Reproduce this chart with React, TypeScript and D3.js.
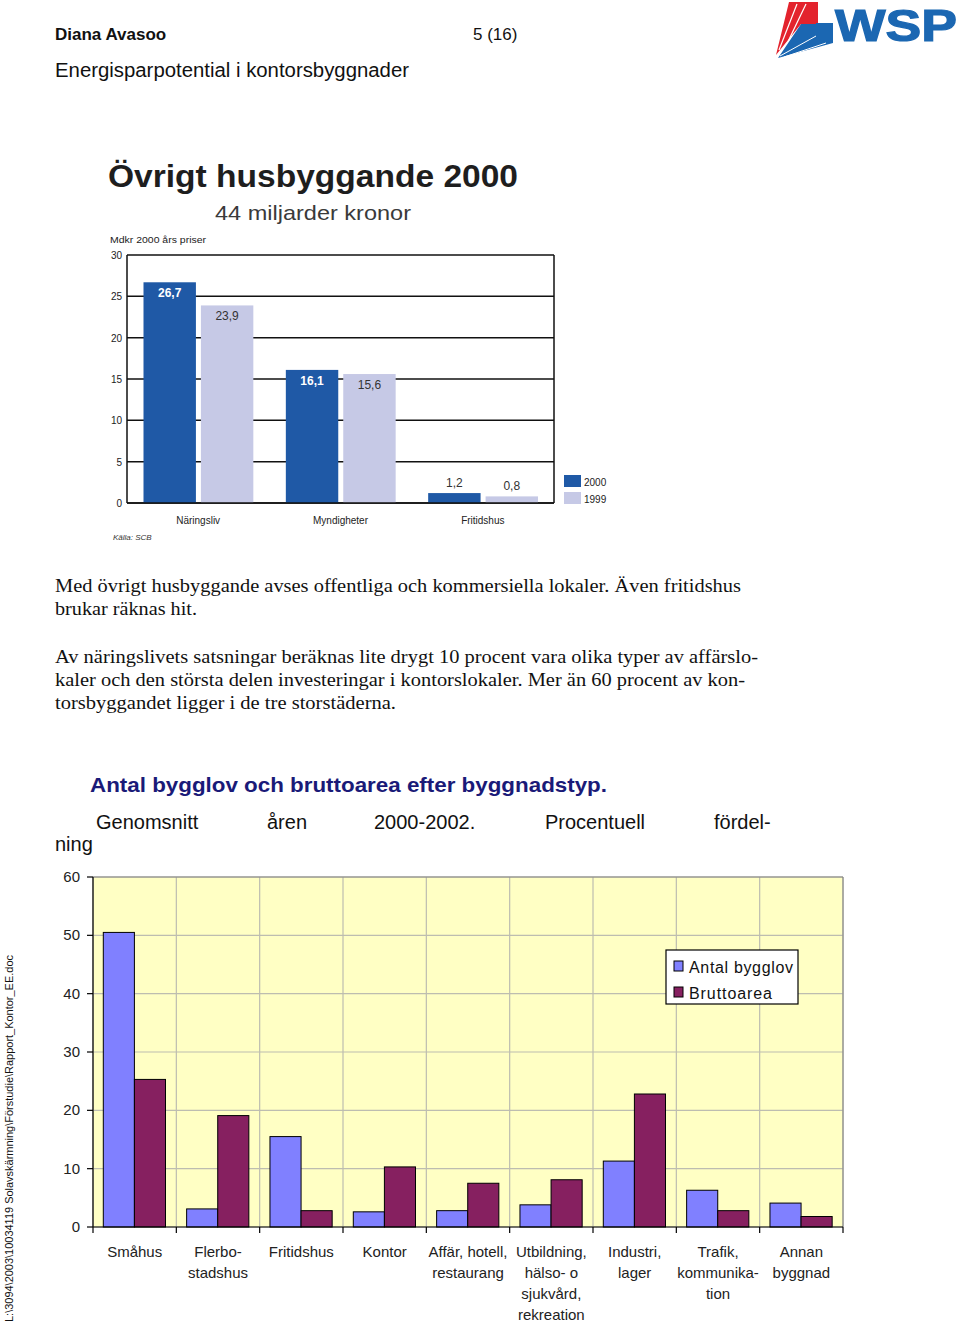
import React from "react";
import * as d3 from "d3";

// ---------- Top chart data ----------
const topCategories = ["Näringsliv", "Myndigheter", "Fritidshus"];
const topSeries = ["2000", "1999"];
const values2000 = [26.7, 16.1, 1.2];
const values1999 = [23.9, 15.6, 0.8];
const topTicks = [0, 5, 10, 15, 20, 25, 30];

// ---------- Bottom chart data ----------
const bottomCategories = [
  ["Småhus"],
  ["Flerbo-", "stadshus"],
  ["Fritidshus"],
  ["Kontor"],
  ["Affär, hotell,", "restaurang"],
  ["Utbildning,", "hälso- o", "sjukvård,", "rekreation"],
  ["Industri,", "lager"],
  ["Trafik,", "kommunika-", "tion"],
  ["Annan", "byggnad"],
];
const bottomSeries = ["Antal bygglov", "Bruttoarea"];
const antalBygglov = [50.5, 3.1, 15.5, 2.6, 2.8, 3.8, 11.3, 6.3, 4.1];
const bruttoarea = [25.3, 19.1, 2.8, 10.3, 7.5, 8.1, 22.8, 2.8, 1.8];
const bottomTicks = [0, 10, 20, 30, 40, 50, 60];

const SANS = "'Liberation Sans', Arial, sans-serif";
const SERIF = "'Liberation Serif', 'Times New Roman', serif";

function TopChart() {
  const x0 = d3.scaleBand<string>().domain(topCategories).range([127, 554]).padding(0);
  const x1 = d3
    .scaleBand<string>()
    .domain(topSeries)
    .range([16.5, x0.bandwidth() - 16])
    .paddingInner(0.087);
  const y = d3.scaleLinear().domain([0, 30]).range([503, 255]);
  const colors: Record<string, string> = { "2000": "#1f59a6", "1999": "#c6c9e6" };
  const seriesVals: Record<string, number[]> = { "2000": values2000, "1999": values1999 };

  return (
    <g>
      <text x={108} y={187} fontFamily={SANS} fontWeight={900} fontSize={31} fill="#1e1e1e" textLength={410} lengthAdjust="spacingAndGlyphs">
        Övrigt husbyggande 2000
      </text>
      <text x={215} y={220} fontFamily={SANS} fontSize={21} fill="#3a3a3a" textLength={196} lengthAdjust="spacingAndGlyphs">
        44 miljarder kronor
      </text>
      <text x={110} y={243} fontFamily={SANS} fontSize={9} fill="#222" textLength={96} lengthAdjust="spacingAndGlyphs">
        Mdkr 2000 års priser
      </text>
      {topTicks.map((t) => (
        <line key={t} x1={127} x2={554} y1={y(t)} y2={y(t)} stroke="#111" strokeWidth={1.5} />
      ))}
      <line x1={127} x2={127} y1={255} y2={503} stroke="#111" strokeWidth={1.5} />
      <line x1={554} x2={554} y1={255} y2={503} stroke="#111" strokeWidth={1.5} />
      {topTicks.map((t) => (
        <text key={"l" + t} x={122} y={y(t) + 4} textAnchor="end" fontFamily={SANS} fontSize={10} fill="#222">
          {t}
        </text>
      ))}
      {topCategories.map((c, i) => (
        <g key={c}>
          {topSeries.map((s) => {
            const v = seriesVals[s][i];
            const bx = (x0(c) as number) + (x1(s) as number);
            const w = x1.bandwidth();
            const big = v > 5;
            return (
              <g key={s}>
                <rect x={bx} y={y(v)} width={w} height={503 - y(v)} fill={colors[s]} />
                <text
                  x={bx + w / 2}
                  y={big ? y(v) + 15 : y(v) - 6}
                  textAnchor="middle"
                  fontFamily={SANS}
                  fontSize={12}
                  fontWeight={s === "2000" && big ? 700 : 400}
                  fill={s === "2000" && big ? "#ffffff" : "#333"}
                >
                  {String(v).replace(".", ",")}
                </text>
              </g>
            );
          })}
          <text x={(x0(c) as number) + x0.bandwidth() / 2} y={524} textAnchor="middle" fontFamily={SANS} fontSize={10} fill="#222">
            {c}
          </text>
        </g>
      ))}
      <line x1={127} x2={554} y1={503} y2={503} stroke="#111" strokeWidth={1.5} />
      {topSeries.map((s, i) => (
        <g key={s}>
          <rect x={564} y={475 + i * 17} width={17} height={12} fill={colors[s]} />
          <text x={584} y={486 + i * 17} fontFamily={SANS} fontSize={10} fill="#222">
            {s}
          </text>
        </g>
      ))}
      <text x={113} y={540} fontFamily={SANS} fontStyle="italic" fontSize={8} fill="#333">
        Källa: SCB
      </text>
    </g>
  );
}

function BottomChart() {
  const left = 93, right = 843, top = 877, bottom = 1227;
  const labels = bottomCategories.map((c) => c.join(" "));
  const x0 = d3.scaleBand<string>().domain(labels).range([left, right]).padding(0);
  const x1 = d3.scaleBand<string>().domain(bottomSeries).range([10.3, 72.5]).padding(0);
  const y = d3.scaleLinear().domain([0, 60]).range([bottom, top]);
  const colors: Record<string, string> = { "Antal bygglov": "#8080ff", Bruttoarea: "#862060" };
  const vals: Record<string, number[]> = { "Antal bygglov": antalBygglov, Bruttoarea: bruttoarea };
  const boundaries = labels.map((l) => x0(l) as number).concat([right]);

  return (
    <g>
      <rect x={left} y={top} width={right - left} height={bottom - top} fill="#ffffc4" />
      {bottomTicks.map((t) => (
        <line key={t} x1={left} x2={right} y1={y(t)} y2={y(t)} stroke="#bdbdb0" strokeWidth={1.2} />
      ))}
      {boundaries.map((b, i) => (
        <line key={i} x1={b} x2={b} y1={top} y2={bottom} stroke="#bdbdb0" strokeWidth={1.2} />
      ))}
      <line x1={left} x2={right} y1={top} y2={top} stroke="#808080" strokeWidth={1} />
      <line x1={right} x2={right} y1={top} y2={bottom} stroke="#808080" strokeWidth={1} />
      {labels.map((l, i) =>
        bottomSeries.map((s) => {
          const v = vals[s][i];
          const bx = (x0(l) as number) + (x1(s) as number);
          return (
            <rect key={l + s} x={bx} y={y(v)} width={x1.bandwidth()} height={bottom - y(v)} fill={colors[s]} stroke="#000" strokeWidth={1} />
          );
        })
      )}
      <line x1={left} x2={left} y1={top} y2={bottom} stroke="#000" strokeWidth={1.2} />
      <line x1={left} x2={right} y1={bottom} y2={bottom} stroke="#000" strokeWidth={1.2} />
      {bottomTicks.map((t) => (
        <g key={"t" + t}>
          <line x1={left - 6} x2={left} y1={y(t)} y2={y(t)} stroke="#000" strokeWidth={1.2} />
          <text x={80} y={y(t) + 5} textAnchor="end" fontFamily={SANS} fontSize={15} fill="#222">
            {t}
          </text>
        </g>
      ))}
      {boundaries.map((b, i) => (
        <line key={"xb" + i} x1={b} x2={b} y1={bottom} y2={bottom + 6} stroke="#000" strokeWidth={1.2} />
      ))}
      {bottomCategories.map((lines, i) => {
        const cx = (x0(labels[i]) as number) + x0.bandwidth() / 2;
        return (
          <text key={"c" + i} textAnchor="middle" fontFamily={SANS} fontSize={15} fill="#222">
            {lines.map((ln, j) => (
              <tspan key={j} x={cx} y={1257 + j * 21}>
                {ln}
              </tspan>
            ))}
          </text>
        );
      })}
      <rect x={666} y={950} width={132} height={54} fill="#fff" stroke="#000" strokeWidth={1.2} />
      {bottomSeries.map((s, i) => (
        <g key={s}>
          <rect x={674} y={961 + i * 26} width={9} height={10} fill={colors[s]} stroke="#000" strokeWidth={1} />
          <text x={689} y={973 + i * 26} fontFamily={SANS} fontSize={16} fill="#111" textLength={i === 0 ? 104 : 83} lengthAdjust="spacing">
            {s}
          </text>
        </g>
      ))}
    </g>
  );
}

function Logo() {
  return (
    <g>
      <polygon points="789,2 818,2 818,24 801,24 776,55" fill="#e3232d" />
      <line x1={797} y1={4} x2={779} y2={50} stroke="#ffffff" strokeWidth={1.2} />
      <line x1={806} y1={4} x2={783} y2={52} stroke="#ffffff" strokeWidth={1.2} />
      <rect x={816} y={23} width={17} height={20} fill="#1b67b2" />
      <polygon points="801,24 816,24 816,43 833,43 778,58" fill="#1b67b2" />
      <line x1={780} y1={56} x2={816} y2={36} stroke="#ffffff" strokeWidth={1} />
      <line x1={784} y1={57} x2={826} y2={43} stroke="#ffffff" strokeWidth={1} />
      <text x={835} y={41} fontFamily={SANS} fontWeight={700} fontSize={45} fill="#1b67b2" stroke="#1b67b2" strokeWidth={1.2} textLength={122} lengthAdjust="spacingAndGlyphs">
        WSP
      </text>
    </g>
  );
}

export default function App() {
  return (
    <svg
      width={960}
      height={1327}
      viewBox="0 0 960 1327"
      style={{ position: "absolute", left: 0, top: 0, background: "#fff" }}
    >
      <rect x={0} y={0} width={960} height={1327} fill="#fff" />
      <text x={55} y={40} fontFamily={SANS} fontWeight={700} fontSize={17} fill="#111">
        Diana Avasoo
      </text>
      <text x={473} y={40} fontFamily={SANS} fontSize={17} fill="#111">
        5 (16)
      </text>
      <text x={55} y={77} fontFamily={SANS} fontSize={20} fill="#111" textLength={354} lengthAdjust="spacingAndGlyphs">
        Energisparpotential i kontorsbyggnader
      </text>
      <Logo />

      <TopChart />

      <g fontFamily={SERIF} fontSize={19.5} fill="#111">
        <text x={55} y={592} textLength={686} lengthAdjust="spacingAndGlyphs">
          Med övrigt husbyggande avses offentliga och kommersiella lokaler. Även fritidshus
        </text>
        <text x={55} y={615} textLength={142} lengthAdjust="spacingAndGlyphs">
          brukar räknas hit.
        </text>
        <text x={55} y={663} textLength={703} lengthAdjust="spacingAndGlyphs">
          Av näringslivets satsningar beräknas lite drygt 10 procent vara olika typer av affärslo-
        </text>
        <text x={55} y={686} textLength={690} lengthAdjust="spacingAndGlyphs">
          kaler och den största delen investeringar i kontorslokaler. Mer än 60 procent av kon-
        </text>
        <text x={55} y={709} textLength={341} lengthAdjust="spacingAndGlyphs">
          torsbyggandet ligger i de tre storstäderna.
        </text>
      </g>

      <text x={90} y={792} fontFamily={SANS} fontWeight={700} fontSize={21} fill="#1a1a78" textLength={517} lengthAdjust="spacingAndGlyphs">
        Antal bygglov och bruttoarea efter byggnadstyp.
      </text>
      <g fontFamily={SANS} fontSize={20} fill="#111">
        <text x={96} y={829}>Genomsnitt</text>
        <text x={267} y={829}>åren</text>
        <text x={374} y={829}>2000-2002.</text>
        <text x={545} y={829}>Procentuell</text>
        <text x={714} y={829}>fördel-</text>
        <text x={55} y={851}>ning</text>
      </g>

      <BottomChart />

      <text
        transform="translate(13,1322) rotate(-90)"
        fontFamily={SANS}
        fontSize={11}
        fill="#111"
        textLength={367}
        lengthAdjust="spacingAndGlyphs"
      >
        L:\3094\2003\10034119 Solavskärmning\Förstudie\Rapport_Kontor_EE.doc
      </text>
    </svg>
  );
}
